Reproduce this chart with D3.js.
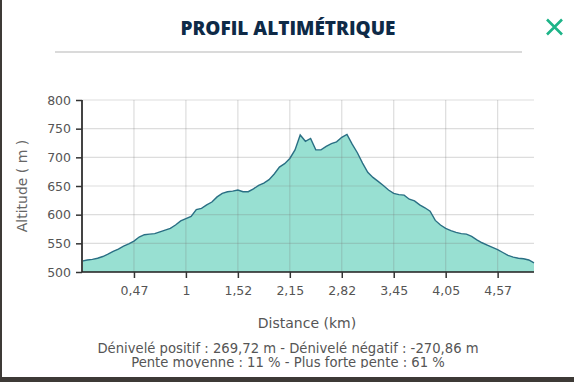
<!DOCTYPE html>
<html><head><meta charset="utf-8">
<script src="https://cdn.jsdelivr.net/npm/d3@7"></script>
<style>
html,body{margin:0;padding:0;background:#fff;}
svg{display:block;}
</style></head>
<body>
<svg id="c" width="574" height="382"></svg>
<script>
// Tick labels (km) shown every 10 samples
const tickLabels = ["0,47","1","1,52","2,15","2,82","3,45","4,05","4,57"];
const tickIndex = [10,20,30,40,50,60,70,80];
// Altitude samples (m), evenly spaced along the profile
const altitudes = [519,521,522,524,527,531,536,540,545,549,
  554,561,565,566,567,570,573,576,582,589,
  593,597,609,611,617,622,631,637,640,641,
  643,640,640,645,651,655,661,671,683,689,
  698,713,739,728,733,713,713,719,724,727,
  735,740,723,708,690,674,665,658,651,643,
  637,635,634,627,624,617,612,606,590,582,
  576,572,569,567,566,562,556,551,547,543,
  539,534,529,526,524,523,521,516];
const yTicks = [500,550,600,650,700,750,800];
const title = "PROFIL ALTIMÉTRIQUE";
const footer = ["Dénivelé positif : 269,72 m - Dénivelé négatif : -270,86 m",
                "Pente moyenne : 11 % - Plus forte pente : 61 %"];

const svg = d3.select("#c");
// panel background edges
svg.append("rect").attr("x",0).attr("y",0).attr("width",574).attr("height",382).attr("fill","#3d3a36");
svg.append("rect").attr("x",2).attr("y",0).attr("width",572).attr("height",377).attr("fill","#fff");

const font = "'DejaVu Sans', Verdana, sans-serif";
const L = 82, R = 534, T = 100, B = 272;
const x = d3.scaleLinear().domain([0, altitudes.length-1]).range([L, R]);
const y = d3.scaleLinear().domain([500, 800]).range([B, T]);

// title
svg.append("text").attr("x",288).attr("y",35).attr("text-anchor","middle")
  .attr("font-family","'Open Sans', sans-serif").attr("font-weight",800).attr("font-size",19)
  .attr("fill","#0e2a47").text(title);
svg.append("line").attr("x1",55).attr("x2",522).attr("y1",52).attr("y2",52)
  .attr("stroke","#b5b5b5").attr("stroke-width",1);
// close X
const cx=554.5, cy=27, s=7.5;
svg.append("path").attr("d",`M${cx-s},${cy-s}L${cx+s},${cy+s}M${cx+s},${cy-s}L${cx-s},${cy+s}`)
  .attr("stroke","#1db488").attr("stroke-width",2.6).attr("fill","none");

// grid
const g = svg.append("g");
g.selectAll(".gy").data(yTicks).join("line").attr("x1",L).attr("x2",R)
  .attr("y1",d=>y(d)).attr("y2",d=>y(d)).attr("stroke","#dcdcdc").attr("stroke-width",1.2);
g.selectAll(".gx").data(tickIndex).join("line").attr("x1",d=>x(d)).attr("x2",d=>x(d))
  .attr("y1",T).attr("y2",B).attr("stroke","#dcdcdc").attr("stroke-width",1.2);

// area
const area = d3.area().x((d,i)=>x(i)).y0(B).y1(d=>y(d));
const line = d3.line().x((d,i)=>x(i)).y(d=>y(d));
svg.append("path").datum(altitudes).attr("d",area).attr("fill","#92ded0").attr("fill-opacity",0.95);
g.raise();
g.selectAll("line").attr("stroke","rgba(120,120,120,0.25)");
svg.append("path").datum(altitudes).attr("d",line).attr("fill","none")
  .attr("stroke","#2a6f84").attr("stroke-width",1.4);

// axes
const yAxis = d3.axisLeft(y).tickValues(yTicks).tickSize(6).tickPadding(5);
const ya = svg.append("g").attr("transform",`translate(${L},0)`).call(yAxis);
ya.select(".domain").attr("d",`M0,${T}V${B}`).attr("stroke","#444").attr("stroke-width",2);
ya.selectAll(".tick line").attr("stroke","#333").attr("stroke-width",1.5);
ya.selectAll("text").attr("font-family",font).attr("font-size",12.5).attr("fill","#555");

const xAxis = d3.axisBottom(x).tickValues(tickIndex).tickFormat((d,i)=>tickLabels[i]).tickSize(6).tickPadding(8);
const xa = svg.append("g").attr("transform",`translate(0,${B})`).call(xAxis);
xa.select(".domain").attr("d",`M${L},0H${R}`).attr("stroke","#222").attr("stroke-width",1.5);
xa.selectAll(".tick line").attr("stroke","#333").attr("stroke-width",1.5);
xa.selectAll("text").attr("font-family",font).attr("font-size",12.5).attr("fill","#555");

// axis titles
svg.append("text").attr("transform","translate(27,186) rotate(-90)").attr("text-anchor","middle")
  .attr("font-family",font).attr("font-size",14).attr("fill","#666").text("Altitude ( m )");
svg.append("text").attr("x",307).attr("y",328).attr("text-anchor","middle")
  .attr("font-family",font).attr("font-size",14).attr("fill","#555").text("Distance (km)");

// footer (clipped like the original)
svg.append("clipPath").attr("id","fc").append("rect").attr("x",0).attr("y",330).attr("width",574).attr("height",38);
const f = svg.append("g").attr("clip-path","url(#fc)");
f.selectAll("text").data(footer).join("text").attr("x",288).attr("y",(d,i)=>353+i*13.5)
  .attr("text-anchor","middle").attr("font-family",font).attr("font-size",13.2).attr("fill","#555").text(d=>d);
</script>
</body></html>
